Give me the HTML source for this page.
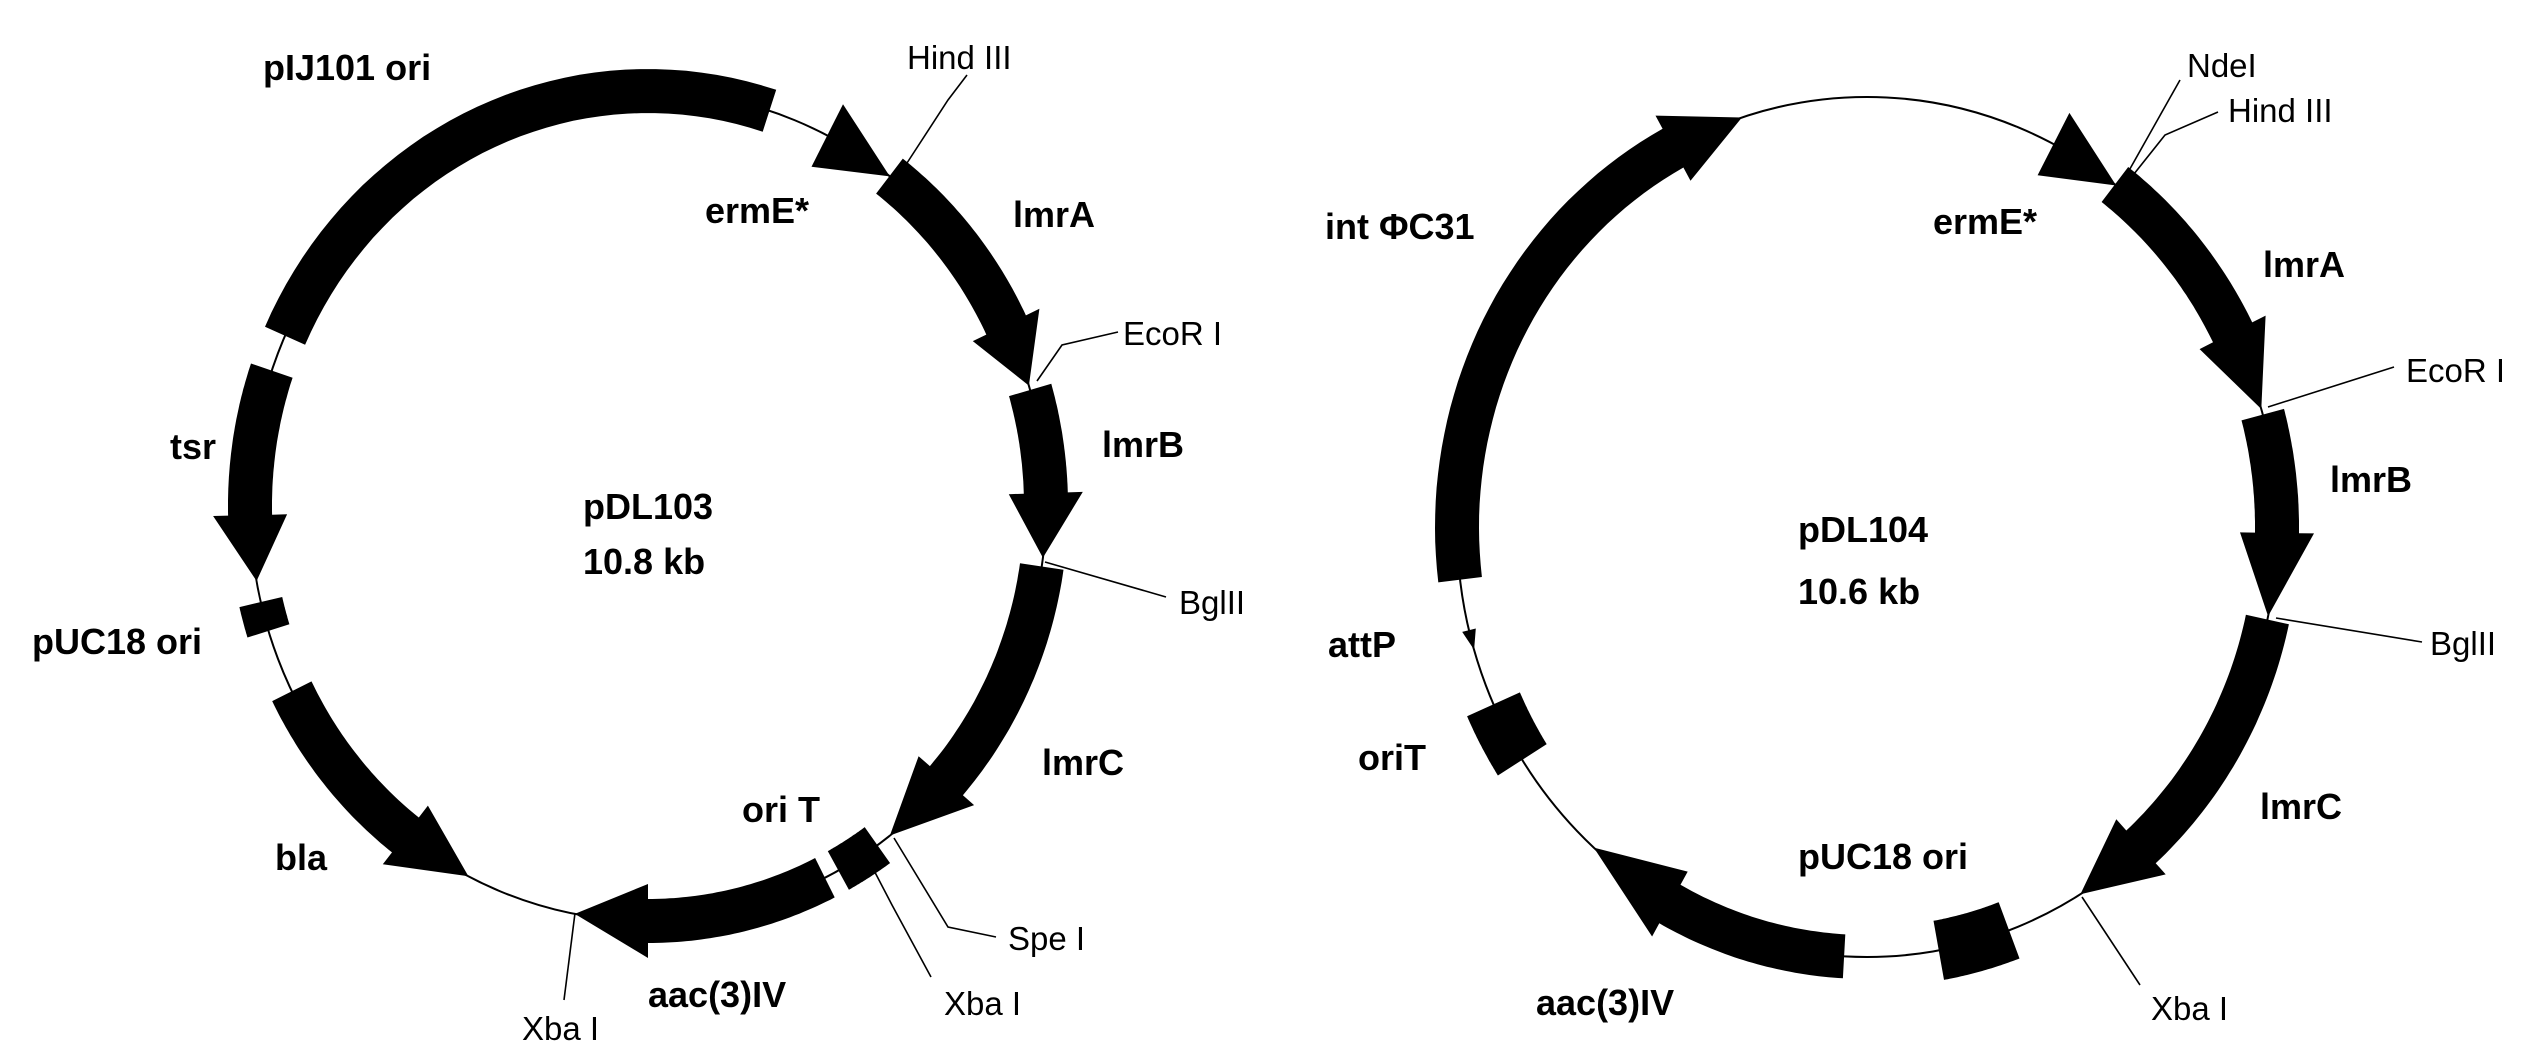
<!DOCTYPE html>
<html><head><meta charset="utf-8">
<style>
html,body{margin:0;padding:0;background:#fff;}
svg{display:block;}
text{font-family:"Liberation Sans",Arial,sans-serif;fill:#000;}
.b{font-weight:bold;font-size:36px;}
.t{font-size:33px;}
</style></head>
<body>
<svg id="s" width="2540" height="1062" viewBox="0 0 2540 1062" xmlns="http://www.w3.org/2000/svg">
<rect width="2540" height="1062" fill="#fff"/>
<g id="g"></g>
<!-- left leader lines -->
<g fill="none" stroke="#000" stroke-width="1.6">
<polyline points="907,163 948,100 967,75"/>
<polyline points="1037,381 1062,345 1118,332"/>
<polyline points="1045,562 1166,597"/>
<polyline points="894,838 948,927 996,937"/>
<polyline points="867,857 892,905 931,977"/>
<polyline points="575,913 564,1000"/>
<polyline points="2122,183 2180,80"/>
<polyline points="2126,184 2165,135 2218,112"/>
<polyline points="2268,407 2394,367"/>
<polyline points="2276,618 2422,642"/>
<polyline points="2082,897 2140,985"/>
</g>
<!-- left labels -->
<text class="b" x="263" y="80">pIJ101 ori</text>
<text class="b" x="705" y="223">ermE*</text>
<text class="b" x="1013" y="227">lmrA</text>
<text class="b" x="1102" y="457">lmrB</text>
<text class="b" x="583" y="519">pDL103</text>
<text class="b" x="583" y="574">10.8 kb</text>
<text class="b" x="170" y="459">tsr</text>
<text class="b" x="32" y="654">pUC18 ori</text>
<text class="b" x="275" y="870">bla</text>
<text class="b" x="742" y="822">ori T</text>
<text class="b" x="1042" y="775">lmrC</text>
<text class="b" x="648" y="1007">aac(3)IV</text>
<text class="t" x="907" y="69">Hind III</text>
<text class="t" x="1123" y="345">EcoR I</text>
<text class="t" x="1179" y="614">BglII</text>
<text class="t" x="1008" y="950">Spe I</text>
<text class="t" x="944" y="1015">Xba I</text>
<text class="t" x="522" y="1040">Xba I</text>
<!-- right labels -->
<text class="b" x="1325" y="239">int ΦC31</text>
<text class="b" x="1933" y="234">ermE*</text>
<text class="b" x="2263" y="277">lmrA</text>
<text class="b" x="2330" y="492">lmrB</text>
<text class="b" x="1798" y="542">pDL104</text>
<text class="b" x="1798" y="604">10.6 kb</text>
<text class="b" x="1328" y="657">attP</text>
<text class="b" x="1358" y="770">oriT</text>
<text class="b" x="2260" y="819">lmrC</text>
<text class="b" x="1798" y="869">pUC18 ori</text>
<text class="b" x="1536" y="1015">aac(3)IV</text>
<text class="t" x="2187" y="77">NdeI</text>
<text class="t" x="2228" y="122">Hind III</text>
<text class="t" x="2406" y="382">EcoR I</text>
<text class="t" x="2430" y="655">BglII</text>
<text class="t" x="2151" y="1020">Xba I</text>
</svg>
<script>
(function(){
var NS="http://www.w3.org/2000/svg",g=document.getElementById('g');
function el(n,a){var e=document.createElementNS(NS,n);for(var k in a)e.setAttribute(k,a[k]);g.appendChild(e);return e;}
function map(M,F){
  el('ellipse',{cx:M.cx,cy:M.cy,rx:M.rx,ry:M.ry,fill:'none',stroke:'#000','stroke-width':2});
  function ang(p){return Math.atan2((p[0]-M.cx)/M.rx,-(p[1]-M.cy)/M.ry);}
  function pt(t,d){return [(M.cx+(M.rx+d)*Math.sin(t)).toFixed(1),(M.cy-(M.ry+d)*Math.cos(t)).toFixed(1)];}
  function norm(d){while(d>Math.PI)d-=2*Math.PI;while(d<-Math.PI)d+=2*Math.PI;return d;}
  F.forEach(function(f){
    var w=f.w||M.w,hw=f.hw||M.hw;
    var t1=ang(f.a),t2=ang(f.b),d=norm(t2-t1);
    var tb=f.h?t1+norm(ang(f.h)-t1):t2;
    var pts=[];
    if(f.head){ // triangle only
      pts.push(pt(t1,hw/2),pt(t1,-hw/2),pt(t2,0));
    } else {
      var db=norm(tb-t1),n=40,i;
      for(i=0;i<=n;i++)pts.push(pt(t1+db*i/n,w/2));
      if(f.h){pts.push(pt(tb,hw/2),pt(t2,0),pt(tb,-hw/2));}
      for(i=n;i>=0;i--)pts.push(pt(t1+db*i/n,-w/2));
    }
    el('polygon',{points:pts.map(function(p){return p.join(',');}).join(' '),fill:'#000'});
  });
}
map({cx:648,cy:506,rx:398,ry:415,w:44,hw:74},[
  {a:[290,338],b:[770,109]},
  {a:[828,134],b:[893,172],head:1,hw:70},
  {a:[899,163],b:[1037,383],h:[1012,322]},
  {a:[1040,387],b:[1045,558],h:[1047,493]},
  {a:[1045,567],b:[891,837],h:[950,784]},
  {a:[876,843],b:[836,866],w:44},
  {a:[826,880],b:[575,913],h:[648,920]},
  {a:[300,687],b:[470,873],h:[412,826]},
  {a:[270,370],b:[262,580],h:[256,515]},
  {a:[257,603],b:[262,633]}
]);
map({cx:1867,cy:527,rx:410,ry:430,w:44,hw:74},[
  {a:[1458,580],b:[1742,118],h:[1675,152]},
  {a:[2054,143],b:[2118,183],head:1,hw:70},
  {a:[2121,176],b:[2268,407],h:[2237,330]},
  {a:[2272,412],b:[2276,618],h:[2282,533]},
  {a:[2278,622],b:[2082,897],h:[2142,848]},
  {a:[2010,933],b:[1940,958],w:60},
  {a:[1844,958],b:[1596,845],h:[1672,900]},
  {a:[1522,760],b:[1488,707],w:58},
  {a:[1462,632],b:[1467,652],head:1,hw:14}
]);
})();
</script>
</body></html>
